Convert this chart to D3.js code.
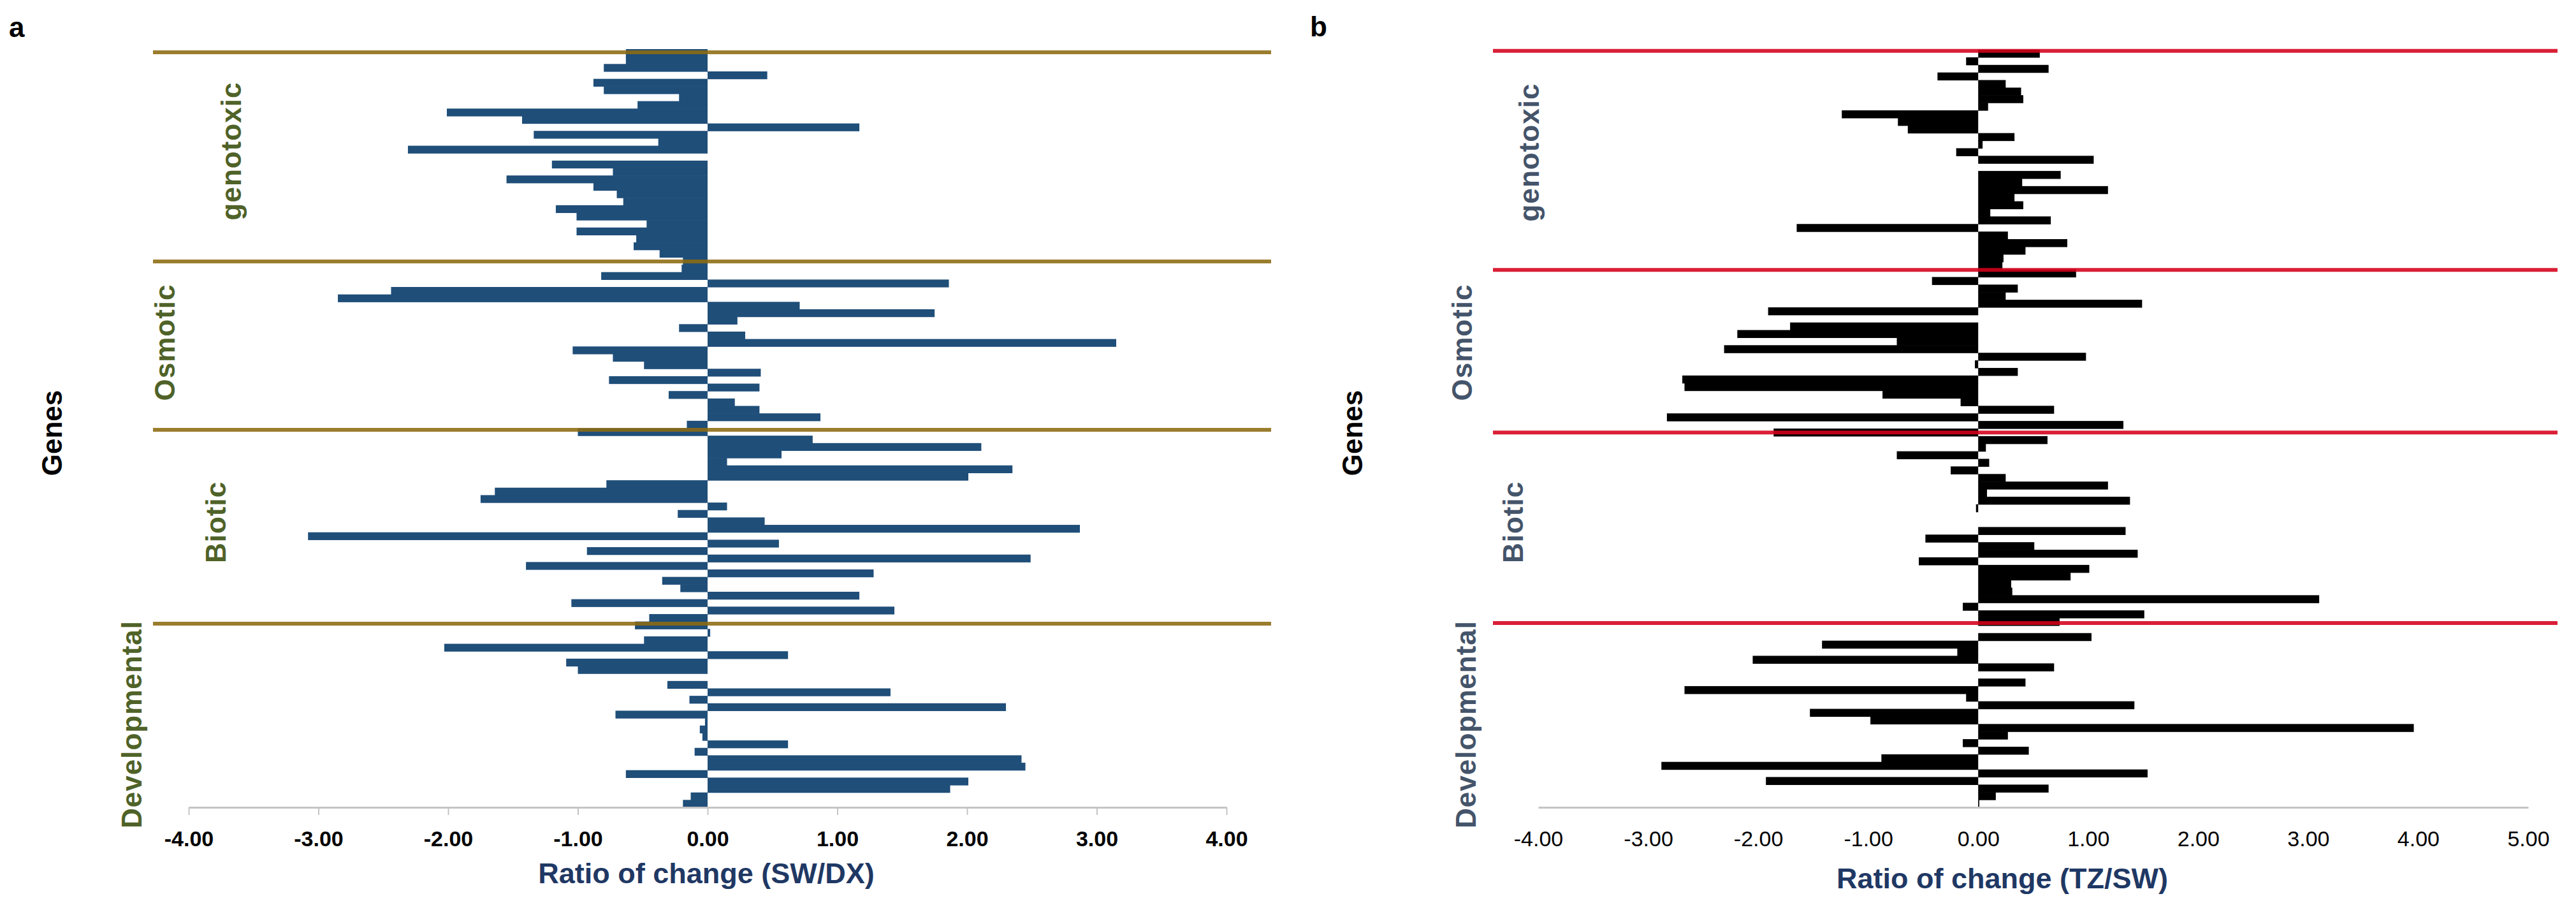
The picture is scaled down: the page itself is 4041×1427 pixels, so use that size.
<!DOCTYPE html>
<html>
<head>
<meta charset="utf-8">
<script src="https://cdn.jsdelivr.net/npm/d3@7/dist/d3.min.js"></script>
<style>
  body { margin: 0; background: #fff; }
  svg { display: block; font-family: "Liberation Sans", Arial, sans-serif; }
</style>
</head>
<body>
<svg id="chart" width="4041" height="1427"></svg>
<script>
const groupNames = ["genotoxic", "Osmotic", "Biotic", "Developmental"];

// ---- panel a : ratio of change SW/DX, genes top to bottom ---- //
const swdxGenotoxic = [-0.63, -0.63, -0.80, 0.46, -0.88, -0.80, -0.22, -0.54, -2.01, -1.43,
    1.17, -1.34, -0.38, -2.31, 0.00, -1.20, -0.73, -1.55, -0.88, -0.70,
    -0.65, -1.17, -1.01, -0.47, -1.01, -0.55, -0.57, -0.37, -0.19];
const swdxOsmotic = [-0.20, -0.82, 1.86, -2.44, -2.85, 0.71, 1.75, 0.23, -0.22, 0.29,
    3.15, -1.04, -0.73, -0.49, 0.41, -0.76, 0.40, -0.30, 0.21, 0.40,
    0.87, -0.16];
const swdxBiotic = [-1.00, 0.81, 2.11, 0.57, 0.15, 2.35, 2.01, -0.78, -1.64, -1.75,
    0.15, -0.23, 0.44, 2.87, -3.08, 0.55, -0.93, 2.49, -1.40, 1.28,
    -0.35, -0.21, 1.17, -1.05, 1.44, -0.45];
const swdxDevelopmental = [-0.56, 0.02, -0.49, -2.03, 0.62, -1.09, -1.00, 0.00, -0.31, 1.41,
    -0.14, 2.30, -0.71, -0.02, -0.06, -0.04, 0.62, -0.10, 2.42, 2.45,
    -0.63, 2.01, 1.87, -0.13, -0.19];

// ---- panel b : ratio of change TZ/SW ---- //
const tzswGenotoxic = [0.56, -0.11, 0.64, -0.37, 0.25, 0.39, 0.41, 0.09, -1.24, -0.73,
    -0.64, 0.33, 0.04, -0.20, 1.05, 0.00, 0.75, 0.40, 1.18, 0.33,
    0.41, 0.11, 0.66, -1.65, 0.27, 0.81, 0.43, 0.23, 0.22];
const tzswOsmotic = [0.89, -0.42, 0.36, 0.25, 1.49, -1.91, 0.00, -1.71, -2.19, -0.74,
    -2.31, 0.98, -0.03, 0.36, -2.69, -2.67, -0.87, -0.16, 0.69, -2.83,
    1.32, -1.86];
const tzswBiotic = [0.63, 0.07, -0.74, 0.10, -0.25, 0.25, 1.18, 0.08, 1.38, -0.02,
    0.00, 0.00, 1.34, -0.48, 0.51, 1.45, -0.54, 1.01, 0.84, 0.30,
    0.31, 3.10, -0.14, 1.51, 0.74];
const tzswDevelopmental = [0.00, 1.03, -1.42, -0.19, -2.05, 0.69, 0.00, 0.43, -2.67, -0.11,
    1.42, -1.53, -0.98, 3.96, 0.27, -0.14, 0.46, -0.88, -2.88, 1.54,
    -1.93, 0.64, 0.16, 0.01];

// where the group separator lines sit, in gene-row units from the top
const swdxBreaks = [0.43, 28.57, 51.21, 77.29];
const tzswBreaks = [0.14, 29.07, 50.53, 75.67];

const ticksA = [-4, -3, -2, -1, 0, 1, 2, 3, 4];
const ticksB = [-4, -3, -2, -1, 0, 1, 2, 3, 4, 5];

const svg = d3.select("#chart");

const panels = [
    {
        "letter": "a",
        "values": [].concat(swdxGenotoxic, swdxOsmotic, swdxBiotic, swdxDevelopmental),
        "breaks": swdxBreaks,
        "ticks": ticksA,
        "X": [296, 1924], "Y": [77, 1266], "lineX": [240, 1994],
        "bar": "#1F4E79", "sep": "#8D6B11", "groupColor": "#4F6228",
        "tickWeight": "bold", "tickSize": 12,
        "title": "Ratio of change (SW/DX)", "titlePos": [1108, 1385],
        "letterPos": [14, 58], "genesPos": [97, 679],
        "groupPos": [[378, 237], [274, 537], [354, 819], [222, 1136]],
    },
    {
        "letter": "b",
        "values": [].concat(tzswGenotoxic, tzswOsmotic, tzswBiotic, tzswDevelopmental),
        "breaks": tzswBreaks,
        "ticks": ticksB,
        "X": [2413, 3966], "Y": [78, 1266], "lineX": [2342, 4012],
        "bar": "#000000", "sep": "#D4001A", "groupColor": "#44546A",
        "tickWeight": "normal", "tickSize": 0,
        "title": "Ratio of change (TZ/SW)", "titlePos": [3141, 1393],
        "letterPos": [2055, 57], "genesPos": [2137, 679],
        "groupPos": [[2414, 239], [2309, 537], [2389, 819], [2315, 1136]],
    },
];

function plot(p) {
    const g = svg.append("g").attr("class", `panel-${p.letter}`);
    const n = p.values.length;

    const xScale = d3.scaleLinear()
        .domain(d3.extent(p.ticks))
        .range(p.X);
    const yScale = d3.scaleBand()
        .domain(d3.range(n))
        .range(p.Y)
        .paddingInner(0)
        .paddingOuter(0);
    const rowScale = d3.scaleLinear()
        .domain([0, n])
        .range(p.Y);

    // ----- BARS ----- //
    // a hair taller than the band so neighbouring bars don't leave seams
    g.append("g")
        .selectAll("rect")
        .data(p.values)
        .enter()
        .append("rect")
            .attr("x", d => xScale(Math.min(0, d)))
            .attr("y", (d, i) => yScale(i))
            .attr("width", d => Math.abs(xScale(d) - xScale(0)))
            .attr("height", yScale.bandwidth() + 0.6)
            .attr("fill", p.bar);

    // ----- SEPARATORS ----- //
    g.append("g")
        .selectAll("line")
        .data(p.breaks)
        .enter()
        .append("line")
            .attr("x1", p.lineX[0])
            .attr("x2", p.lineX[1])
            .attr("y1", d => rowScale(d))
            .attr("y2", d => rowScale(d))
            .attr("stroke", p.sep)
            .attr("stroke-width", 6)
            .attr("stroke-opacity", 0.88);

    // ----- AXIS ----- //
    const xAxis = d3.axisBottom(xScale)
        .tickValues(p.ticks)
        .tickFormat(d => d.toFixed(2))
        .tickSize(p.tickSize)
        .tickSizeOuter(0)
        .tickPadding(37 - p.tickSize);

    const ax = g.append("g")
        .attr("class", "x-axis")
        .attr("transform", `translate(0, ${p.Y[1]})`)
        .call(xAxis);
    ax.select(".domain")
        .attr("stroke", "#C4C4C4")
        .attr("stroke-width", 3);
    ax.selectAll(".tick line")
        .attr("stroke", "#C4C4C4")
        .attr("stroke-width", 2);
    ax.selectAll(".tick text")
        .attr("fill", "#000")
        .attr("font-size", 34)
        .attr("font-weight", p.tickWeight)
        .attr("font-family", "'Liberation Sans', Arial, sans-serif");

    // ----- TEXT ----- //
    g.append("text")
        .attr("x", p.titlePos[0])
        .attr("y", p.titlePos[1])
        .attr("text-anchor", "middle")
        .attr("font-size", 45)
        .attr("font-weight", "bold")
        .attr("fill", "#1F3864")
        .text(p.title);

    g.append("text")
        .attr("x", p.letterPos[0])
        .attr("y", p.letterPos[1])
        .attr("font-size", 44)
        .attr("font-weight", "bold")
        .attr("fill", "#000")
        .text(p.letter);

    g.append("text")
        .attr("transform", `translate(${p.genesPos[0]}, ${p.genesPos[1]}) rotate(-90)`)
        .attr("text-anchor", "middle")
        .attr("font-size", 44)
        .attr("font-weight", "bold")
        .attr("fill", "#000")
        .text("Genes");

    g.append("g")
        .selectAll("text")
        .data(groupNames)
        .enter()
        .append("text")
            .attr("transform", (d, i) => `translate(${p.groupPos[i][0]}, ${p.groupPos[i][1]}) rotate(-90)`)
            .attr("text-anchor", "middle")
            .attr("font-size", 44)
            .attr("font-weight", "bold")
            .attr("letter-spacing", 1)
            .attr("fill", p.groupColor)
            .text(d => d);
}

panels.forEach(plot);
</script>
</body>
</html>
